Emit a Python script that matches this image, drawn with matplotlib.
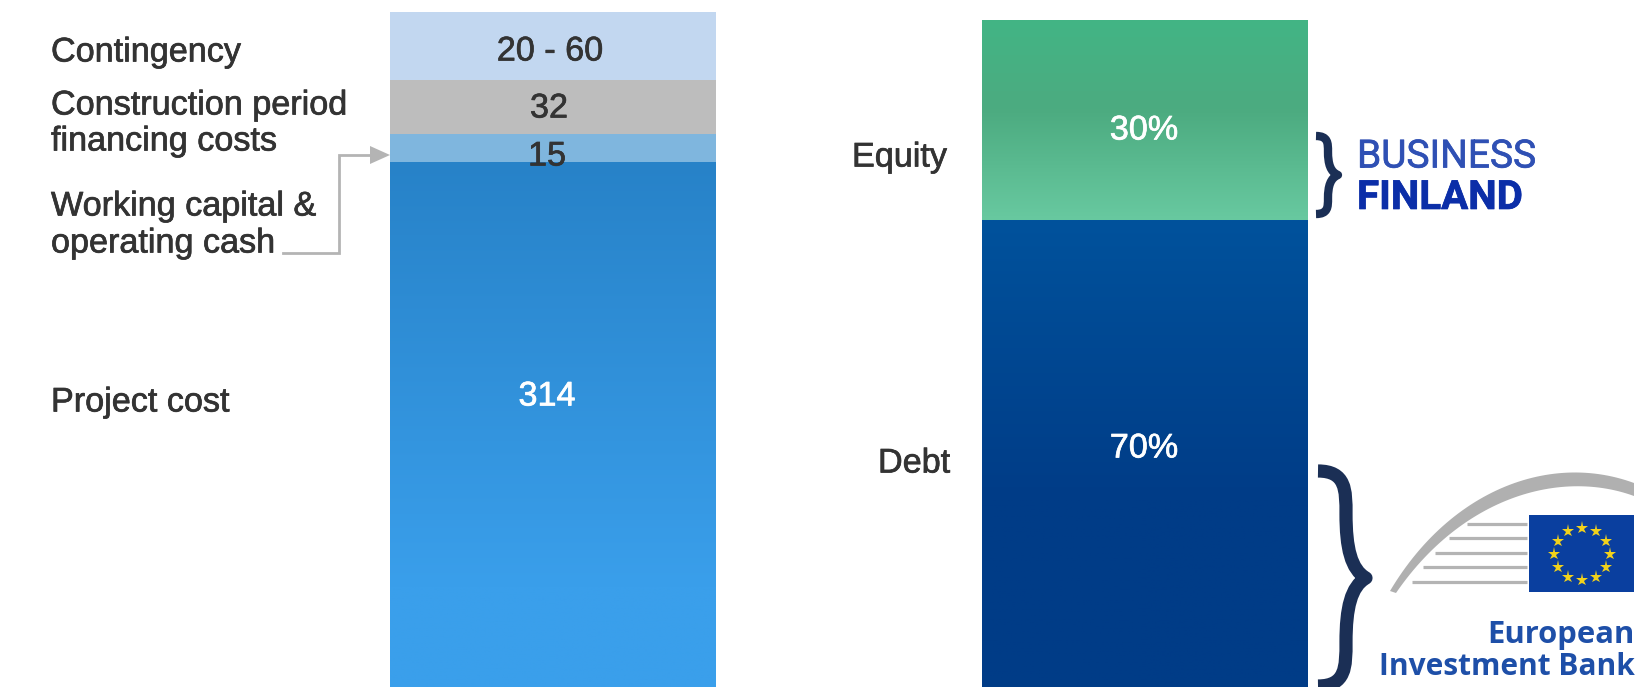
import numpy as np
import matplotlib
matplotlib.use("Agg")
import matplotlib.pyplot as plt
import matplotlib.patheffects as pe
from matplotlib.colors import LinearSegmentedColormap
from matplotlib.patches import PathPatch, Polygon
from matplotlib.path import Path

plt.rcParams['font.family'] = ['Liberation Sans', 'DejaVu Sans']

# ---------- data ----------
cost_names = ["Project cost", "Working capital &\noperating cash",
              "Construction period\nfinancing costs", "Contingency"]
cost_heights = [314, 16, 31, 39]          # segment heights
cost_labels = ["314", "15", "32", "20 - 60"]
fund_names = ["Debt", "Equity"]
fund_values = [70, 30]
fund_labels = ["70%", "30%"]

W, H = 1643, 687
TXT = "#333333"
fig = plt.figure(figsize=(W / 100, H / 100), dpi=100)

def px_axes(x0, x1, top, bottom):
    return fig.add_axes([x0 / W, 1 - bottom / H, (x1 - x0) / W, (bottom - top) / H])

def gradient_fill(ax, bar, stops):
    """stops: list of (fraction from the top, colour)"""
    cmap = LinearSegmentedColormap.from_list("g", stops)
    xl, yl = ax.get_xlim(), ax.get_ylim()
    x, y, w, h = bar.get_x(), bar.get_y(), bar.get_width(), bar.get_height()
    im = ax.imshow(np.linspace(0, 1, 256).reshape(-1, 1), cmap=cmap, aspect="auto",
                   extent=(x, x + w, y, y + h), origin="upper", zorder=3)
    im.set_clip_path(bar)
    ax.set_xlim(xl)
    ax.set_ylim(yl)

# ---------- left stacked bar ----------
ax1 = px_axes(390, 716, 0, H)
PX = 1.74
total = sum(cost_heights)
ax1.set_xlim(0, 1)
ax1.set_ylim(total + 12 / PX - H / PX, total + 12 / PX)
ax1.axis("off")
cost_cols = [None, "#7FB6DE", "#BDBDBD", "#C2D7F0"]
b = 0
bars1 = []
for v, c in zip(cost_heights, cost_cols):
    bars1.append(ax1.bar(0.5, v, width=1, bottom=b, color=c or "#2E8BD6", linewidth=0, zorder=2)[0])
    b += v
gradient_fill(ax1, bars1[0], [(0, "#2782C8"), (0.78, "#3A9FEB"), (1, "#3A9FEB")])

# ---------- right stacked bar ----------
ax2 = px_axes(982, 1308, 20, H)
ax2.set_xlim(0, 1)
ax2.set_ylim(0, sum(fund_values))
ax2.axis("off")
deb = ax2.bar(0.5, fund_values[0], width=1, color="#004A94", linewidth=0, zorder=2)[0]
equ = ax2.bar(0.5, fund_values[1], width=1, bottom=fund_values[0], color="#4BAA80", linewidth=0, zorder=2)[0]
gradient_fill(ax2, deb, [(0, "#00529C"), (0.6, "#003C87"), (1, "#003C87")])
gradient_fill(ax2, equ, [(0, "#42B585"), (0.45, "#4CAB80"), (1, "#68C9A0")])

# ---------- overlay in pixel space (annotations, logos) ----------
ov = fig.add_axes([0, 0, 1, 1], zorder=5)
ov.set_xlim(0, W)
ov.set_ylim(H, 0)
ov.axis("off")
ov.patch.set_alpha(0)

FS = 24.6
def label(x, y, s, ha="left", color=TXT, size=FS, **kw):
    t = ov.text(x, y + 3, s, ha=ha, va="center", color=color, fontsize=size, **kw)
    t.set_path_effects([pe.withStroke(linewidth=0.5, foreground=color)])

label(51, 50, cost_names[3])
label(51, 103, "Construction period")
label(51, 139, "financing costs")
label(51, 204, "Working capital &")
label(51, 241, "operating cash")
label(51, 400, cost_names[0])
label(550, 49, cost_labels[3], ha="center")
label(549, 106, cost_labels[2], ha="center")
label(547, 154, cost_labels[1], ha="center")
label(547, 394, cost_labels[0], ha="center", color="white")
label(852, 155, fund_names[1])
label(878, 461, fund_names[0])
label(1144, 128, fund_labels[1], ha="center", color="white")
label(1144, 446, fund_labels[0], ha="center", color="white")

# connector with arrow
ov.plot([283, 339, 339, 372], [253, 253, 155, 155], color="#B4B4B4", lw=2, solid_joinstyle="miter")
ov.add_patch(Polygon([[370, 146], [390, 155], [370, 164]], closed=True, color="#B4B4B4", lw=0))

# curly braces
def brace(x0, xm, xt, top, tip, bottom, lw, color="#1B2F55"):
    k = (tip - top)
    verts = [(x0, top), (xm, top), (xm, top + 0.18 * k), (xm, top + 0.4 * k),
             (xm, top + 0.72 * k), (xm + 0.25 * (xt - xm), tip - 0.08 * k), (xt, tip),
             (xm + 0.25 * (xt - xm), tip + 0.08 * k), (xm, tip + 0.28 * k), (xm, tip + 0.6 * k),
             (xm, bottom - 0.18 * k), (xm, bottom), (x0, bottom)]
    codes = [Path.MOVETO] + [Path.CURVE4] * 12
    ov.add_patch(PathPatch(Path(verts, codes), fill=False, ec=color, lw=lw,
                           capstyle="butt", joinstyle="round"))

brace(1316, 1328, 1338, 136, 175, 214, 6)
brace(1318, 1346, 1366, 471, 578, 686, 9.5)

# Business Finland logo
label(1357, 154, "BUSINESS", color="#2F50B4", size=28, family=["Roboto", "DejaVu Sans"])
label(1357, 195, "FINLAND", color="#0B2EA8", size=29, weight="bold", family=["Roboto", "DejaVu Sans"])

# EIB logo: arc
t = np.linspace(0, 1, 60)
def bez(p0, p1, p2, p3):
    return np.outer((1 - t) ** 3, p0) + np.outer(3 * (1 - t) ** 2 * t, p1) + \
           np.outer(3 * (1 - t) * t ** 2, p2) + np.outer(t ** 3, p3)
outer = bez(np.array([1390, 591]), np.array([1450, 490]), np.array([1550, 452]), np.array([1634, 483]))
inner = bez(np.array([1634, 496]), np.array([1560, 469]), np.array([1462, 497]), np.array([1396, 593]))
ov.add_patch(Polygon(np.vstack([outer, inner]), closed=True, color="#B0B0B0", lw=0))

# EIB logo: speed lines
line_x0 = [1467, 1449, 1435, 1423, 1412]
line_y = [524, 538, 553, 567, 582]
for x0, y in zip(line_x0, line_y):
    ov.plot([x0, 1527], [y, y], color="#B4B4B4", lw=2.3, solid_capstyle="butt")

# EIB logo: flag
ov.fill_between([1529, 1634], 515, 592, color="#0A3F9F", lw=0)
ang = np.deg2rad(np.arange(12) * 30)
ov.plot(1582 + 28 * np.cos(ang), 554 + 26 * np.sin(ang), ls="none", marker="*",
        ms=9.5, color="#F2D21B", mew=0)
ov.text(1635, 643, "European", ha="right", va="baseline", color="#1E4FA8", fontsize=22.3,
        weight="bold", family=["Open Sans", "DejaVu Sans"])
ov.text(1635, 675, "Investment Bank", ha="right", va="baseline", color="#1E4FA8", fontsize=21.5,
        weight="bold", family=["Open Sans", "DejaVu Sans"])

fig.savefig("out.png", dpi=100)
